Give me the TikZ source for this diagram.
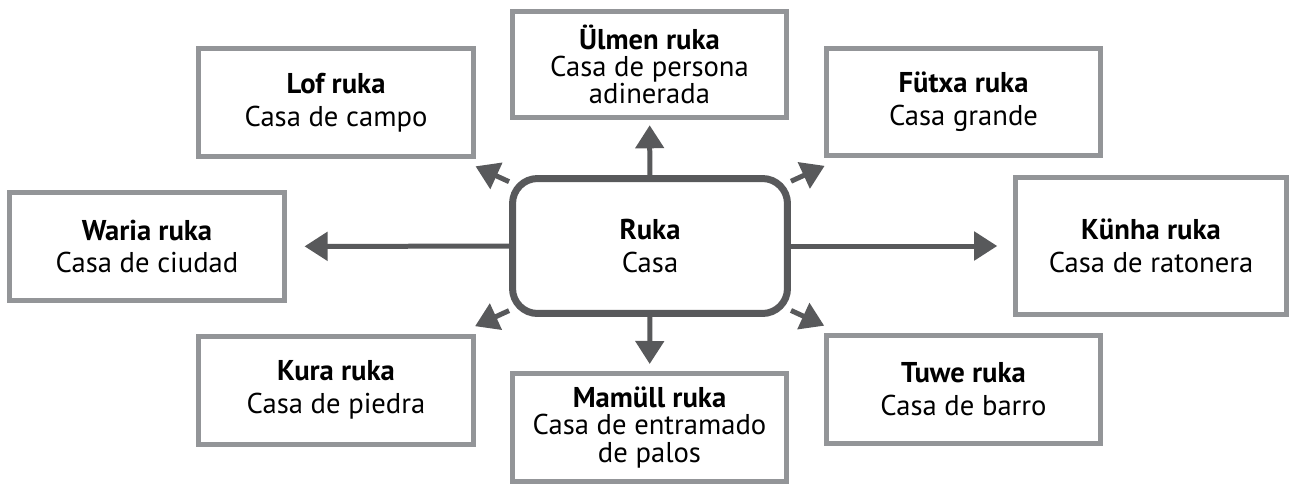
\documentclass[tikz,border=0pt]{standalone}
\usepackage{fontspec}
\setmainfont{PT Sans}
\usetikzlibrary{arrows.meta}
\definecolor{boxgray}{RGB}{147,149,152}
\definecolor{linkgray}{RGB}{88,89,91}
\tikzset{
  house/.style={draw=boxgray,line width=0.1cm,fill=white,align=center,
    inner sep=0pt,minimum width=5.5cm,minimum height=2.16cm,
    font=\fontsize{16.3}{18.7}\selectfont},
  tight/.style={font=\fontsize{16.3}{15.4}\selectfont},
  centre/.style={house,draw=linkgray,line width=0.14cm,rounded corners=0.5cm,
    minimum height=2.7cm},
  link/.style={draw=linkgray,line width=0.1cm,
    -{Triangle[length=0.46cm,width=0.56cm]}}
}

\begin{document}
\begin{tikzpicture}[x=0.02cm,y=-0.02cm]
  \useasboundingbox (0,0) rectangle (1293,484);

  \node[centre] (ruka) at (650,246) {\textbf{Ruka}\\Casa};

  \node[house,tight,minimum width=5.48cm,minimum height=2.12cm] (ulmen) at (649.5,64.5)
    {\textbf{Ülmen ruka}\\Casa de persona\\adinerada};
  \node[house] (lof) at (336,102.5) {\textbf{Lof ruka}\\Casa de campo};
  \node[house] (futxa) at (963.5,102) {\textbf{Fütxa ruka}\\Casa grande};
  \node[house] (waria) at (147,246.5) {\textbf{Waria ruka}\\Casa de ciudad};
  \node[house,minimum width=5.42cm,minimum height=2.74cm] (kunha) at (1151,246)
    {\textbf{Künha ruka}\\Casa de ratonera};
  \node[house] (kura) at (336,390) {\textbf{Kura ruka}\\Casa de piedra};
  \node[house,tight] (mamull) at (649.5,427.5)
    {\textbf{Mamüll ruka}\\Casa de entramado\\de palos};
  \node[house] (tuwe) at (963.5,389.5) {\textbf{Tuwe ruka}\\Casa de barro};

  % arrows out of the centre
  \draw[link,shorten >=3] (ruka) -- (ulmen);
  \draw[link,shorten >=4] (ruka) -- (mamull);
  \draw[link,shorten >=10] (ruka) -- (waria);
  \draw[link,shorten >=9] (ruka) -- (kunha);
  \foreach \n in {lof,futxa,kura,tuwe}
  \draw[link,shorten >=10] (ruka) -- (\n)
  ;
\end{tikzpicture}
\end{document}
